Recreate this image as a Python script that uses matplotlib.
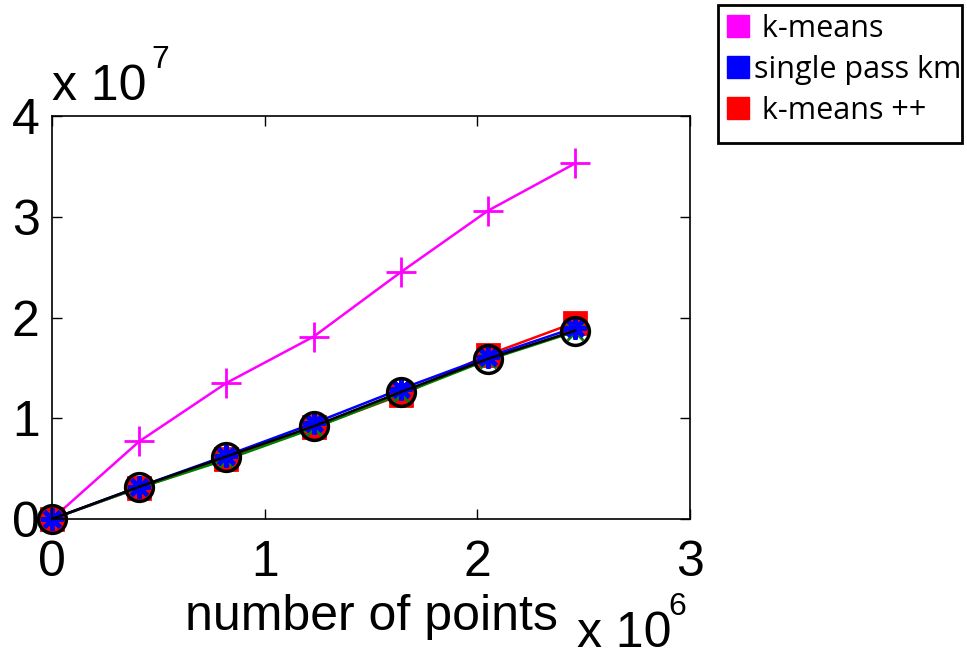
import matplotlib
matplotlib.use("Agg")
import matplotlib.pyplot as plt
from matplotlib.lines import Line2D
from matplotlib.patches import Rectangle
from matplotlib.ticker import FuncFormatter

# data
n_points = [0, 0.41e6, 0.82e6, 1.23e6, 1.64e6, 2.05e6, 2.46e6]
kmeans = [0, 0.77e7, 1.35e7, 1.81e7, 2.45e7, 3.06e7, 3.53e7]
single_pass = [0, 0.32e7, 0.63e7, 0.95e7, 1.29e7, 1.61e7, 1.90e7]
kmeans_pp = [0, 0.31e7, 0.60e7, 0.91e7, 1.23e7, 1.63e7, 1.95e7]
other_green = [0, 0.31e7, 0.59e7, 0.90e7, 1.24e7, 1.58e7, 1.86e7]
other_black = [0, 0.32e7, 0.62e7, 0.92e7, 1.26e7, 1.59e7, 1.87e7]

legend_labels = [' k-means', 'single pass km', ' k-means ++']
legend_colors = ['magenta', 'blue', 'red']

plt.rcParams['font.family'] = ['Liberation Sans', 'DejaVu Sans']

W, H = 967, 659
fig = plt.figure(figsize=(W / 100, H / 100), dpi=100)
ax = fig.add_axes([52 / W, 1 - 519 / H, 638 / W, 403 / H])

# markers are not clipped at the axes edge, like in MATLAB
ax.plot(n_points, kmeans, color='magenta', lw=1.8, marker='+', ms=22, mew=2,
        clip_on=False)
ax.plot(n_points, kmeans_pp, color='red', lw=1.8, marker='s', ms=16, mew=2,
        clip_on=False)
ax.plot(n_points, other_green, color='green', lw=1.8, marker='x', ms=12, mew=2,
        clip_on=False)
ax.plot(n_points, single_pass, color='blue', lw=1.8, marker=(8, 2, 0), ms=16,
        mew=3, clip_on=False)
ax.plot(n_points, other_black, color='black', lw=1.8, marker='o', ms=20,
        mew=2.5, markerfacecolor='none', clip_on=False)

ax.set_xlim(0, 3e6)
ax.set_ylim(0, 4e7)
ax.set_xticks([0, 1e6, 2e6, 3e6])
ax.set_yticks([0, 1e7, 2e7, 3e7, 4e7])
ax.xaxis.set_major_formatter(FuncFormatter(lambda v, p: '%d' % round(v / 1e6)))
ax.yaxis.set_major_formatter(FuncFormatter(lambda v, p: '%d' % round(v / 1e7)))
ax.tick_params(direction='in', length=7, width=1, labelsize=36,
               top=True, right=True)
ax.tick_params(axis='x', pad=15)
ax.tick_params(axis='y', pad=9)
for s in ax.spines.values():
    s.set_linewidth(1.2)

ax.set_xlabel('number of points', fontsize=36, labelpad=6)

# MATLAB style exponent labels
fig.text(52 / W, 1 - 100 / H, 'x 10', fontsize=36, ha='left', va='baseline')
fig.text(151 / W, 1 - 68 / H, '7', fontsize=23, ha='left', va='baseline')
fig.text(577 / W, 1 - 647 / H, 'x 10', fontsize=36, ha='left', va='baseline')
fig.text(668 / W, 1 - 615 / H, '6', fontsize=23, ha='left', va='baseline')

# legend box outside the axes
fig.patches.append(Rectangle((718 / W, 1 - 143 / H), 244 / W, 138 / H,
                             transform=fig.transFigure, fill=False,
                             edgecolor='black', linewidth=2))
handles = [Line2D([], [], linestyle='none', marker='s', ms=16, color=c)
           for c in legend_colors]
leg = fig.legend(handles, legend_labels, loc='upper left',
                 bbox_to_anchor=(727 / W, 1 - 14 / H), frameon=False,
                 prop={'family': 'Open Sans', 'size': 22},
                 handlelength=0.7, handletextpad=0.2, labelspacing=0.36,
                 borderpad=0, borderaxespad=0)

fig.savefig('out.png', dpi=100)
